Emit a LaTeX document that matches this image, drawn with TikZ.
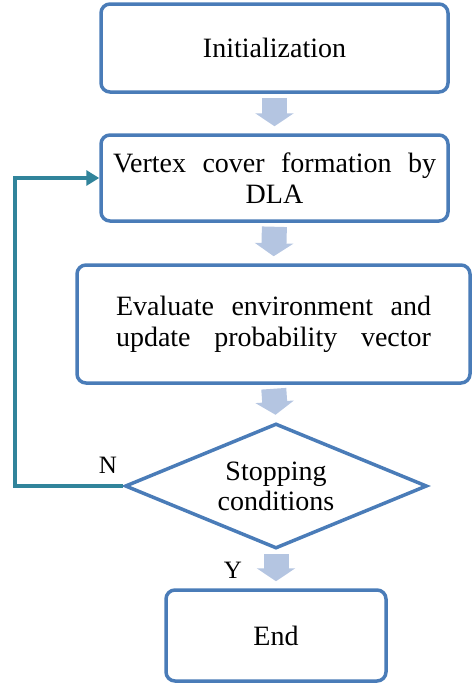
\documentclass[tikz,border=0pt]{standalone}
\usepackage{fontspec}
\setmainfont{Liberation Serif}
\usetikzlibrary{shapes.geometric,arrows.meta,calc}
\definecolor{boxblue}{RGB}{74,124,184}
\definecolor{arrowfill}{RGB}{180,197,225}
\definecolor{loopteal}{RGB}{49,132,155}
\begin{document}
\begin{tikzpicture}[x=1pt,y=-1pt,
  procbox/.style={draw=boxblue, line width=3.5pt, rounded corners=9pt, fill=white,
    inner sep=0pt, align=center, font=\fontsize{28}{31}\selectfont},
  decbox/.style={draw=boxblue, line width=3.5pt, diamond, aspect=2.4, inner sep=0pt,
    minimum width=302pt, minimum height=125pt, align=center, font=\fontsize{28}{30}\selectfont},
  blockarrow/.style={draw=arrowfill, line width=25pt,
    -{Triangle[width=38pt,length=13pt]}, shorten <=4pt, shorten >=7pt},
  loopline/.style={draw=loopteal, line width=4pt, -{Triangle[width=15pt,length=13pt]}},
  lbl/.style={font=\fontsize{25}{25}\selectfont, inner sep=0pt}
]
\useasboundingbox (0,0) rectangle (472,683);
\node[procbox, minimum width=347pt, minimum height=88pt] (init) at (274.5,48) {Initialization};
\node[procbox, minimum width=347pt, minimum height=86pt] (vtx) at (274.5,178)
  {\makebox[323pt][s]{Vertex cover formation by}\\DLA};
\node[procbox, minimum width=393pt, minimum height=118pt] (eval) at (273.5,324)
  {\makebox[315pt][s]{Evaluate environment and}\\\makebox[315pt][s]{update probability vector}};
\node[decbox] (cond) at (276,486) {Stopping\\conditions};
\node[procbox, minimum width=220pt, minimum height=91pt] (end) at (276,635.5) {End};

\draw[blockarrow] (init.south) -- (vtx.north);
\draw[blockarrow] (vtx.south) -- (eval.north);
\draw[blockarrow] (eval.south) -- (cond.north);
\draw[blockarrow] (cond.south) -- (end.north);

\coordinate (loopcorner) at (15,486);
\draw[loopline] (cond.west) -- (loopcorner) |- (vtx.west);

\node[lbl] (nlabel) at (108,465) {N};
\node[lbl] (ylabel) at (233,570) {Y};
\end{tikzpicture}
\end{document}
